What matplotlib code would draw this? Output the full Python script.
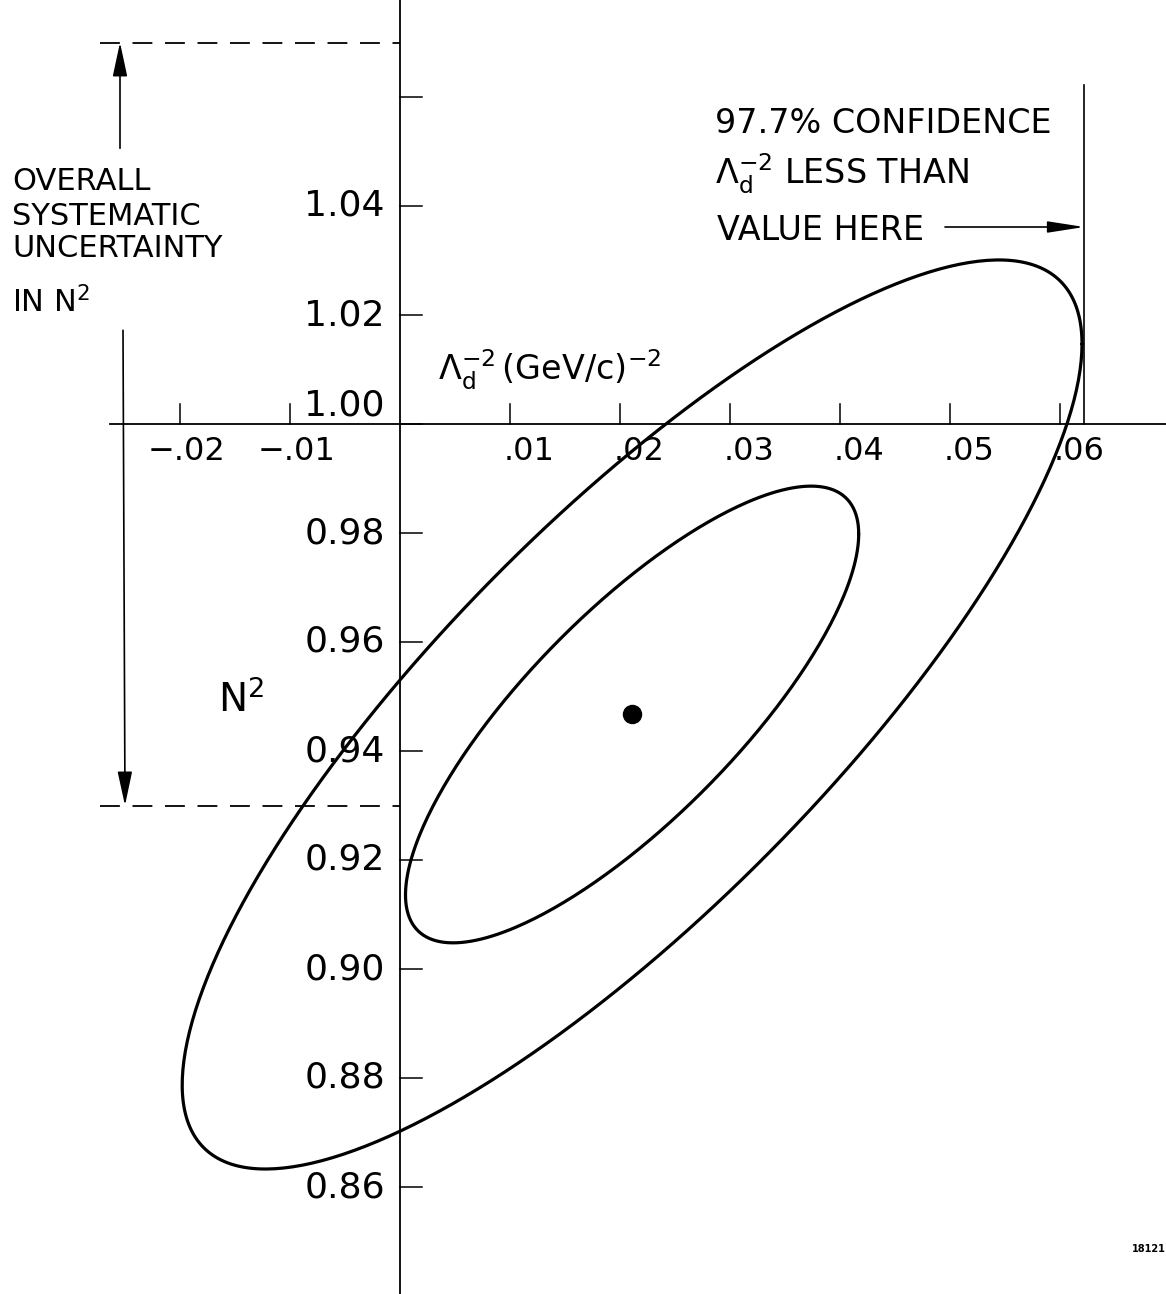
import numpy as np
import matplotlib.pyplot as plt

# fit result: best point and the two chi-square contours around it
best_lambda = 0.0211
best_n2 = 0.9467
contour_dx = [0.0206, 0.0409]     # half extent along Lambda_d^-2
contour_dy = [0.0419, 0.0834]     # half extent along N^2
contour_rho = [0.79, 0.815]       # correlation

x_ticks = [-0.02, -0.01, 0.01, 0.02, 0.03, 0.04, 0.05, 0.06]
x_tick_labels = ["\u2212.02", "\u2212.01", ".01", ".02", ".03", ".04", ".05", ".06"]
y_ticks = [0.86, 0.88, 0.90, 0.92, 0.94, 0.96, 0.98, 1.00, 1.02, 1.04, 1.06]
y_tick_labels = ["0.86", "0.88", "0.90", "0.92", "0.94", "0.96", "0.98",
                 "1.00", "1.02", "1.04", ""]

syst_band = [0.93, 1.07]          # overall systematic uncertainty in N^2
limit_lambda = 0.0622             # 97.7% upper limit on Lambda_d^-2

# one pixel in data units (figure is 1166 x 1294 at dpi 100)
PX = 1 / 11000
PY = 1 / 5450

plt.rcParams['font.family'] = ['DejaVu Sans']
plt.rcParams['mathtext.fontset'] = 'dejavusans'

fig = plt.figure(figsize=(11.66, 12.94), dpi=100)
ax = fig.add_axes([0, 0, 1, 1])
ax.set_xlim(-400 * PX, 766 * PX)
ax.set_ylim(1 - 870 * PY, 1 + 424 * PY)
ax.axis('off')

# axes crossing at (0, 1.00)
ax.plot([-290 * PX, 766 * PX], [1.0, 1.0], color='k', lw=1.3)
ax.plot([0, 0], [1 - 870 * PY, 1 + 424 * PY], color='k', lw=1.3)

# ticks: x ticks point up, y ticks point right
for xt, lab in zip(x_ticks, x_tick_labels):
    ax.plot([xt, xt], [1.0, 1.0 + 20 * PY], color='k', lw=1.1)
    off = -32 if lab.startswith("\u2212") else -6
    ax.text(xt + off * PX, 1.0 - 36 * PY, lab, fontsize=23,
            ha='left', va='baseline')

for yt, lab in zip(y_ticks, y_tick_labels):
    ax.plot([0, 22 * PX], [yt, yt], color='k', lw=1.1)
    if not lab:
        continue
    ty = yt + 19 * PY if lab == "1.00" else yt
    ax.text(-15 * PX, ty, lab, fontsize=26, ha='right', va='center')

# contours
t = np.linspace(0, 2 * np.pi, 400)
for dx, dy, rho in zip(contour_dx, contour_dy, contour_rho):
    delta = np.arccos(rho)
    ax.plot(best_lambda + dx * np.cos(t), best_n2 + dy * np.cos(t - delta),
            color='k', lw=2.3, solid_capstyle='round')

ax.plot([best_lambda], [best_n2], 'o', color='k', markersize=13)

# systematic uncertainty band with arrows
arrow_x = -280 * PX
for yb in syst_band:
    ax.plot([-300 * PX, 0], [yb, yb], color='k', lw=1.3, dashes=(11, 7))
head = dict(arrowstyle='-|>,head_length=1.4,head_width=0.3',
            mutation_scale=15, color='k', lw=1.2, shrinkA=0, shrinkB=0)
ax.annotate('', xy=(arrow_x, syst_band[1]), xytext=(arrow_x, 1.0506),
            arrowprops=head)
ax.annotate('', xy=(arrow_x + 5 * PX, syst_band[0]), xytext=(arrow_x + 3 * PX, 1.0172),
            arrowprops=head)

txt = dict(fontsize=22, ha='left', va='baseline')
ax.text(-388 * PX, 1 + 234 * PY, "OVERALL", **txt)
ax.text(-388 * PX, 1 + 199 * PY, "SYSTEMATIC", **txt)
ax.text(-388 * PX, 1 + 167 * PY, "UNCERTAINTY", **txt)
ax.text(-388 * PX, 1 + 112 * PY, "IN N$^2$", **txt)

# upper limit marker
ax.plot([limit_lambda, limit_lambda], [1.0, 1 + 339 * PY], color='k', lw=1.2)
ax.annotate('', xy=(limit_lambda, 1 + 197 * PY), xytext=(545 * PX, 1 + 197 * PY),
            arrowprops=dict(arrowstyle='-|>,head_length=1.6,head_width=0.25',
                            mutation_scale=14, color='k', lw=1.2,
                            shrinkA=0, shrinkB=0))
txt2 = dict(fontsize=24, ha='left', va='baseline')
ax.text(315 * PX, 1 + 291 * PY, "97.7% CONFIDENCE", **txt2)
ax.text(315 * PX, 1 + 239 * PY, r"$\Lambda_{\rm d}^{-2}$ LESS THAN", **txt2)
ax.text(317 * PX, 1 + 184 * PY, "VALUE HERE", **txt2)

# axis names
ax.text(38 * PX, 1 + 44 * PY, r"$\Lambda_{\rm d}^{-2}\,$(GeV/c)$^{-2}$",
        fontsize=24, ha='left', va='baseline')
ax.text(-182 * PX, 1 - 288 * PY, "N$^2$", fontsize=28, ha='left', va='baseline')

ax.text(766 * PX, 1 - 828 * PY, "18121", fontsize=7, fontweight='bold',
        ha='right', va='baseline')

fig.savefig("out.png", dpi=100)
